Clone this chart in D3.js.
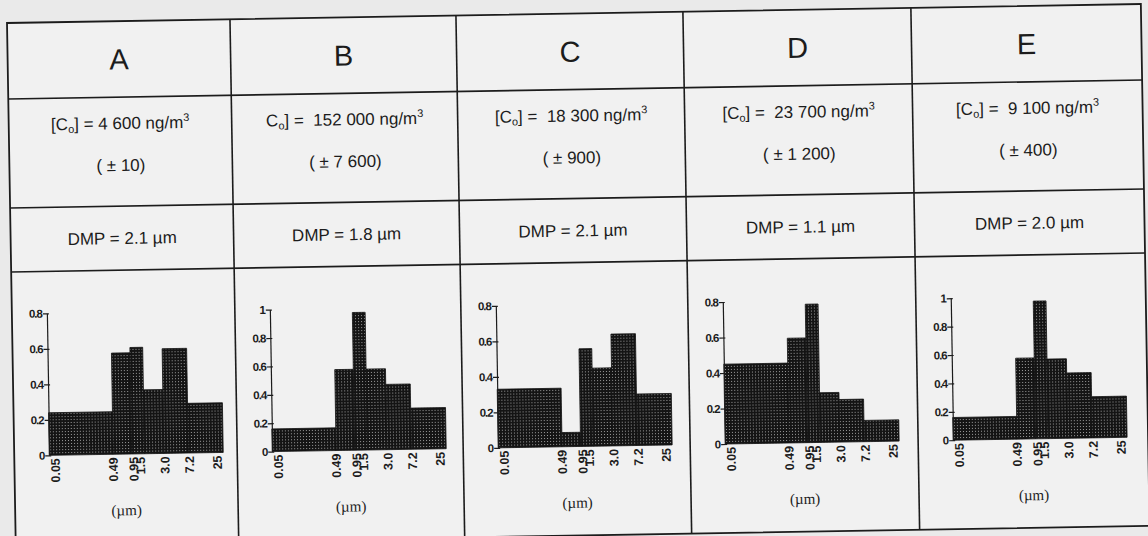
<!DOCTYPE html>
<html>
<head>
<meta charset="utf-8">
<script src="https://cdn.jsdelivr.net/npm/d3@7/dist/d3.min.js"></script>
<style>
  html, body { margin: 0; padding: 0; background: #eaeaea; }
  svg { display: block; }
</style>
</head>
<body>
<svg id="chart"></svg>
<script>
// ── data ─────────────────────────────────────────────────────────────────
var panels     = ['A', 'B', 'C', 'D', 'E'];
var concPrefix = ['[', '', '[', '[', '['];          // B is printed without the "["
var concValue  = ['4 600', '152 000', '18 300', '23 700', '9 100'];
var concError  = ['10', '7 600', '900', '1 200', '400'];
var dmpValue   = ['2.1', '1.8', '2.1', '1.1', '2.0'];

var binEdges   = [0.05, 0.49, 0.95, 1.5, 3.0, 7.2, 25];
var edgeLabels = ['0.05', '0.49', '0.95', '1.5', '3.0', '7.2', '25'];

var fracA = [0.24, 0.57, 0.60, 0.36, 0.59, 0.28];
var fracB = [0.16, 0.57, 0.97, 0.57, 0.46, 0.29];
var fracC = [0.33, 0.08, 0.55, 0.44, 0.63, 0.29];
var fracD = [0.45, 0.59, 0.78, 0.28, 0.24, 0.12];
var fracE = [0.16, 0.57, 0.97, 0.56, 0.46, 0.29];
var fractions = [fracA, fracB, fracC, fracD, fracE];
var yMax = [0.8, 1, 0.8, 0.8, 1];

// ── geometry ─────────────────────────────────────────────────────────────
var W = 1148, H = 536;
var colX = [0, 223, 449, 676, 904, 1134];   // column borders (table frame)
var rowY = [0, 76, 185, 249, 522];          // row borders
var plotDx = 35, plotW = 174, plotH = 142, plotY0 = 433;
var labelNudge = [6, 0, 2, -4, 1, 1, -6];   // x-label shifts, as printed
var ink = '#1c1c1c';
var sans = '"Liberation Sans", Arial, sans-serif';

var svg = d3.select('#chart').attr('width', W).attr('height', H);
svg.append('rect').attr('width', W).attr('height', H).attr('fill', '#eaeaea');

// dotted bar fill
var defs = svg.append('defs');
var pat = defs.append('pattern').attr('id', 'dots')
    .attr('width', 3).attr('height', 3).attr('patternUnits', 'userSpaceOnUse');
pat.append('rect').attr('width', 3).attr('height', 3).attr('fill', '#141414');
pat.append('rect').attr('x', 1).attr('y', 1).attr('width', 1).attr('height', 1).attr('fill', '#9c9c9c');

// the scan is tilted slightly
var root = svg.append('g').attr('transform', 'translate(7,23) rotate(-0.96)');

// ── table frame ──────────────────────────────────────────────────────────
root.append('rect')
    .attr('x', 0).attr('y', 0)
    .attr('width', colX[5]).attr('height', rowY[4])
    .attr('fill', '#f1f1f1').attr('stroke', ink).attr('stroke-width', 1.8);
rowY.slice(1, 4).forEach(function (y) {
    root.append('line').attr('x1', 0).attr('x2', colX[5]).attr('y1', y).attr('y2', y)
        .attr('stroke', ink).attr('stroke-width', 1.6);
});
colX.slice(1, 5).forEach(function (x) {
    root.append('line').attr('x1', x).attr('x2', x).attr('y1', 0).attr('y2', rowY[4])
        .attr('stroke', ink).attr('stroke-width', 1.6);
});

// ── cells ────────────────────────────────────────────────────────────────
panels.forEach(function (p, i) {
    var cx = (colX[i] + colX[i + 1]) / 2;
    var cell = root.append('g').attr('font-family', sans).attr('fill', ink);

    cell.append('text')
        .attr('x', cx).attr('y', (rowY[0] + rowY[1]) / 2).attr('dy', '0.35em')
        .attr('text-anchor', 'middle').attr('font-size', 29)
        .text(p);

    var t = cell.append('text')
        .attr('x', cx).attr('y', rowY[1] + 26).attr('dy', '0.35em')
        .attr('text-anchor', 'middle').attr('font-size', 17)
        .style('white-space', 'pre');
    t.append('tspan').text(concPrefix[i] + 'C');
    t.append('tspan').attr('font-size', 11).attr('dy', 3).text('o');
    t.append('tspan').attr('dy', -3).text('] = ' + (i ? ' ' : '') + concValue[i] + ' ng/m');
    t.append('tspan').attr('font-size', 11).attr('dy', -7).text('3');

    cell.append('text')
        .attr('x', cx).attr('y', rowY[1] + 68).attr('dy', '0.35em')
        .attr('text-anchor', 'middle').attr('font-size', 17)
        .style('white-space', 'pre')
        .text('( \u00b1 ' + concError[i] + ')');

    cell.append('text')
        .attr('x', cx).attr('y', (rowY[2] + rowY[3]) / 2).attr('dy', '0.35em')
        .attr('text-anchor', 'middle').attr('font-size', 17)
        .text('DMP = ' + dmpValue[i] + ' \u00b5m');

    // ── histogram ────────────────────────────────────────────────────────
    var g = root.append('g')
        .attr('transform', 'translate(' + (colX[i] + plotDx) + ',' + (plotY0 - plotH) + ')');
    var x = d3.scaleLog().domain([binEdges[0], binEdges[binEdges.length - 1]]).range([0, plotW]);
    var y = d3.scaleLinear().domain([0, yMax[i]]).range([plotH, 0]);

    var bins = fractions[i].map(function (v, k) {
        return { x0: binEdges[k], x1: binEdges[k + 1], v: v };
    });
    g.selectAll('rect.bar').data(bins).enter().append('rect')
        .attr('class', 'bar')
        .attr('x', function (d) { return x(d.x0); })
        .attr('width', function (d) { return x(d.x1) - x(d.x0); })
        .attr('y', function (d) { return y(d.v); })
        .attr('height', function (d) { return plotH - y(d.v); })
        .attr('fill', 'url(#dots)')
        .attr('stroke', '#111').attr('stroke-width', 0.8);

    var yAxis = g.append('g')
        .call(d3.axisLeft(y)
            .tickValues(d3.range(0, yMax[i] + 1e-9, 0.2))
            .tickFormat(d3.format('~g'))
            .tickSizeInner(4).tickSizeOuter(0).tickPadding(1));
    yAxis.select('.domain').attr('stroke', ink).attr('stroke-width', 1.2);
    yAxis.selectAll('.tick line').attr('x1', 2).attr('stroke', ink).attr('stroke-width', 1.2);
    yAxis.selectAll('.tick text')
        .attr('font-family', sans).attr('font-size', 11.5).attr('font-weight', 'bold')
        .attr('letter-spacing', -1).attr('fill', ink);

    g.selectAll('text.xl').data(binEdges).enter().append('text')
        .attr('class', 'xl')
        .attr('transform', function (d, k) {
            return 'translate(' + (x(d) + labelNudge[k]) + ',' + (plotH + 3) + ') rotate(-90)';
        })
        .attr('dy', '0.35em')
        .attr('text-anchor', 'end')
        .attr('font-family', sans).attr('font-size', 12.5).attr('font-weight', 'bold')
        .attr('fill', ink)
        .text(function (d, k) { return edgeLabels[k]; });

    cell.append('text')
        .attr('x', cx).attr('y', 489).attr('dy', '0.35em')
        .attr('text-anchor', 'middle')
        .attr('font-family', '"Liberation Serif", "Times New Roman", serif')
        .attr('font-size', 15)
        .text('(\u00b5m)');
});
</script>
</body>
</html>
